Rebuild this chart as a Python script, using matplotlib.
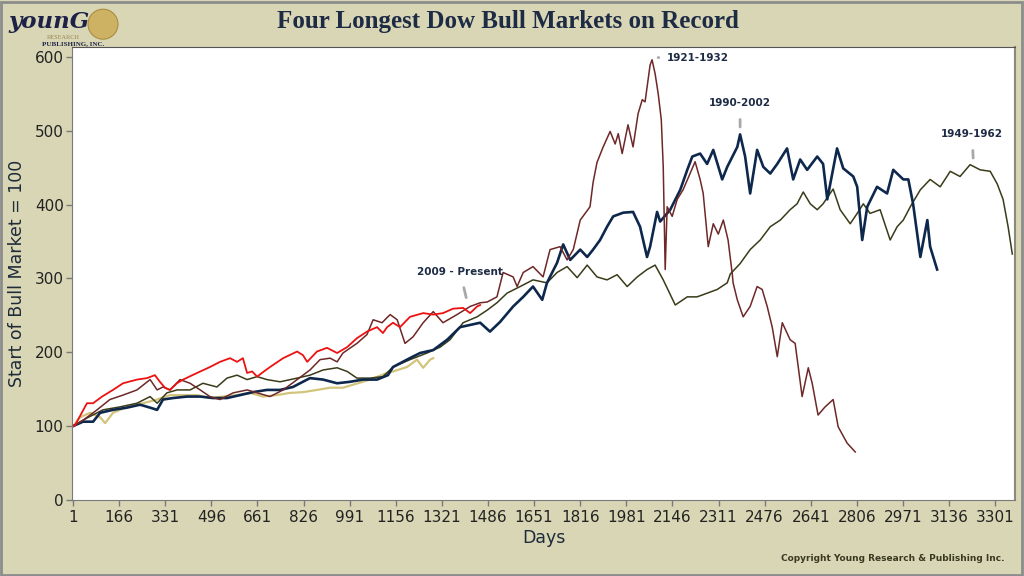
import matplotlib.pyplot as plt
from matplotlib.patches import Rectangle, Ellipse

# values (day number, index with start of bull market = 100)
red_days = [1, 8, 51, 73, 105, 144, 180, 230, 266, 294, 312, 330, 348, 373, 395, 445, 491, 527, 563, 588,
            609, 624, 642, 660, 677, 706, 753, 803, 824, 839, 874, 910, 946, 982, 1017, 1053, 1089, 1110,
            1125, 1146, 1171, 1207, 1254, 1290, 1325, 1361, 1397, 1422, 1447, 1458]
red_vals = [100, 101, 131, 131, 140, 149, 158, 163, 165, 169, 160, 152, 149, 158, 163, 172, 180, 187, 192, 187,
            192, 172, 174, 167, 172, 180, 192, 201, 196, 187, 201, 206, 199, 207, 219, 228, 234, 226,
            234, 240, 234, 248, 253, 251, 253, 259, 260, 253, 262, 264]

khaki_days = [1, 26, 62, 98, 116, 144, 194, 252, 302, 348, 395, 445, 491, 538, 588, 635, 681, 731, 778, 824,
              874, 921, 967, 1003, 1064, 1125, 1146, 1196, 1232, 1254, 1279, 1290]
khaki_vals = [100, 112, 118, 112, 104, 118, 126, 131, 136, 142, 142, 142, 138, 140, 142, 145, 140, 142, 145, 146,
              149, 152, 152, 156, 163, 172, 174, 180, 190, 179, 190, 192]

navy_days = [1, 37, 73, 98, 144, 194, 241, 277, 302, 323, 359, 409, 456, 502, 552, 599, 645, 695, 742, 788,
             849, 896, 946, 992, 1039, 1089, 1128, 1146, 1196, 1243, 1290, 1340, 1386, 1422, 1458, 1493, 1529,
             1576, 1612, 1647, 1680, 1697, 1733, 1755, 1780, 1816, 1841, 1862, 1887, 1912, 1934, 1970, 2005,
             2030, 2055, 2066, 2091, 2102, 2138, 2174, 2199, 2217, 2245, 2270, 2292, 2324, 2342, 2378, 2388,
             2406, 2424, 2449, 2471, 2496, 2521, 2556, 2578, 2603, 2628, 2664, 2685, 2700, 2735, 2757, 2793,
             2807, 2825, 2843, 2878, 2914, 2936, 2972, 2990, 3007, 3033, 3058, 3068, 3093]
navy_vals = [100, 106, 106, 118, 122, 125, 129, 125, 122, 136, 138, 140, 140, 138, 138, 142, 146, 149, 149, 153,
             165, 163, 158, 160, 163, 163, 169, 180, 190, 199, 203, 217, 234, 237, 240, 228, 241,
             262, 275, 289, 271, 294, 321, 346, 325, 339, 329, 339, 352, 370, 384, 389, 390,
             370, 329, 343, 390, 377, 393, 420, 447, 465, 469, 455, 474, 434, 451, 478, 495,
             465, 415, 474, 451, 442, 455, 476, 434, 461, 447, 465, 455, 407, 476, 449, 438,
             424, 352, 397, 424, 415, 447, 434, 434, 401, 329, 379, 343, 312]

olive_days = [1, 51, 108, 169, 230, 277, 302, 337, 373, 420, 466, 516, 552, 588, 624, 660, 695, 742, 803, 849,
              896, 946, 982, 1017, 1064, 1110, 1146, 1207, 1268, 1315, 1350, 1397, 1447, 1483, 1518, 1554,
              1601, 1647, 1697, 1733, 1769, 1805, 1841, 1876, 1912, 1948, 1984, 2020, 2055, 2084, 2113,
              2156, 2199, 2234, 2256, 2306, 2342, 2353, 2388, 2424, 2460, 2496, 2532, 2567, 2592, 2614,
              2639, 2664, 2685, 2710, 2721, 2746, 2782, 2807, 2829, 2853, 2889, 2925, 2950, 2972, 2997,
              3033, 3068, 3104, 3140, 3175, 3211, 3247, 3283, 3308, 3329, 3347, 3362]
olive_vals = [100, 111, 122, 126, 131, 140, 131, 145, 149, 149, 158, 153, 165, 169, 163, 167, 163, 160, 165, 169,
              176, 179, 174, 165, 165, 167, 180, 190, 199, 207, 217, 240, 248, 257, 267, 280,
              289, 298, 294, 308, 316, 301, 318, 302, 298, 305, 289, 302, 312, 318, 298,
              264, 275, 275, 278, 285, 294, 306, 320, 339, 352, 370, 379, 393, 401, 417,
              401, 393, 401, 415, 421, 393, 374, 388, 401, 388, 393, 352, 370, 379, 397,
              420, 434, 424, 445, 438, 454, 447, 445, 428, 407, 370, 333]

maroon_days = [1, 37, 87, 133, 180, 230, 277, 302, 323, 348, 384, 420, 456, 491, 527, 574, 624, 660, 706, 753,
               803, 849, 885, 921, 946, 967, 1017, 1053, 1075, 1107, 1125, 1136, 1161, 1189, 1218, 1254, 1290,
               1325, 1375, 1422, 1458, 1483, 1518, 1540, 1576, 1590, 1612, 1647, 1683, 1708, 1744, 1769, 1791,
               1816, 1851, 1862, 1876, 1898, 1923, 1941, 1952, 1966, 1987, 2005, 2023, 2038, 2048, 2066, 2073,
               2084, 2095, 2106, 2113, 2120, 2127, 2145, 2163, 2184, 2209, 2227, 2245, 2256, 2274, 2292, 2310,
               2328, 2345, 2360, 2363, 2378, 2399, 2424, 2449, 2467, 2485, 2503, 2521, 2539, 2567, 2585, 2610,
               2632, 2646, 2667, 2692, 2721, 2739, 2771, 2800]
maroon_vals = [100, 108, 122, 136, 142, 149, 163, 149, 153, 149, 163, 158, 149, 140, 136, 145, 149, 145, 140, 149,
               163, 176, 190, 192, 187, 199, 212, 224, 244, 240, 247, 251, 244, 212, 221, 240, 255,
               240, 251, 262, 267, 268, 275, 308, 302, 289, 308, 316, 302, 339, 343, 325, 339,
               379, 397, 430, 457, 478, 499, 482, 496, 469, 508, 478, 523, 542, 539, 589, 596,
               577, 550, 515, 451, 312, 397, 384, 407, 420, 442, 458, 434, 415, 343, 374, 360,
               379, 352, 306, 294, 271, 248, 262, 289, 285, 262, 234, 194, 240, 217, 212, 140,
               179, 158, 115, 126, 136, 99, 77, 65]

x_ticks = list(range(1, 3302, 165))
y_ticks = [0, 100, 200, 300, 400, 500, 600]

# (label, point on line, text position, horizontal alignment)
labels = [
    ("2009 - Present", (1408, 274), (1386, 309), "center"),
    ("1921-1932", (2095, 599), (2127, 599), "left"),
    ("1990-2002", (2388, 505), (2388, 537), "center"),
    ("1949-1962", (3222, 463), (3218, 495), "center"),
]

BG = "#D8D6B4"
NAVY_TXT = "#1E2B45"

fig = plt.figure(figsize=(10.24, 5.76), dpi=100, facecolor=BG)
ax = fig.add_axes([0.0703, 0.132, 0.921, 0.786])
ax.set_facecolor("white")

ax.plot(khaki_days, khaki_vals, color="#D2C47A", lw=1.6)
ax.plot(olive_days, olive_vals, color="#3A3B19", lw=1.1)
ax.plot(navy_days, navy_vals, color="#0E284D", lw=1.9)
ax.plot(maroon_days, maroon_vals, color="#6E2828", lw=1.1)
ax.plot(red_days, red_vals, color="#EE1111", lw=1.3)

ax.set_xlim(-2.6, 3372)
ax.set_ylim(0, 613)
ax.set_xticks(x_ticks)
ax.set_yticks(y_ticks)
ax.tick_params(axis="both", labelsize=11, colors="#7A7A7A", labelcolor="#222222", length=4, width=1)
ax.tick_params(axis="x", pad=3)
ax.tick_params(axis="y", pad=2)

for side in ["left", "bottom", "top", "right"]:
    ax.spines[side].set_color("#7A7A7A")
ax.spines["top"].set_color("#555555")
ax.spines["right"].set_color("#8A8A7A")
ax.spines["right"].set_linewidth(1.5)

ax.set_xlabel("Days", fontsize=12.5, color="#1E2B3A", labelpad=3)
ax.set_ylabel("Start of Bull Market = 100", fontsize=12.5, color="#1E2B3A", labelpad=6)

for text, xy, xytext, ha in labels:
    if ha == "left":
        ax.annotate(text, xy=(xy[0], xy[1]), xytext=xytext, ha="left", va="center",
                    fontsize=7.5, fontweight="bold", color=NAVY_TXT)
        ax.annotate("", xy=(xy[0] - 10, xy[1]), xytext=(xy[0] + 12, xy[1]),
                    arrowprops=dict(arrowstyle="-", color="#A8A8A8", lw=2))
    else:
        ax.annotate(text, xy=xy, xytext=xytext, ha="center", va="center",
                    fontsize=7.5, fontweight="bold", color=NAVY_TXT,
                    arrowprops=dict(arrowstyle="-", color="#A8A8A8", lw=2, shrinkA=6, shrinkB=0))

fig.text(0.496, 0.962, "Four Longest Dow Bull Markets on Record", ha="center", va="center",
         fontsize=18, fontweight="bold", family="Liberation Serif", color=NAVY_TXT)
fig.text(0.981, 0.031, "Copyright Young Research & Publishing Inc.", ha="right", va="center",
         fontsize=6.5, fontweight="bold", color="#3A3A22")

# logo: gold globe behind the word mark
fig.patches.append(Ellipse((0.1006, 0.958), 30 / 1024, 30 / 576, transform=fig.transFigure,
                           facecolor="#CDAE5C", edgecolor="#A8863A", lw=0.8, alpha=0.9))
fig.text(0.008, 0.9514, "younG", ha="left", va="baseline", fontsize=16.5, fontweight="bold",
         style="italic", family="DejaVu Serif", color="#1B2147")
fig.text(0.046, 0.9323, "RESEARCH", ha="left", va="baseline", fontsize=4.5, family="Liberation Serif",
         color="#9A8750")
fig.text(0.041, 0.921, "PUBLISHING, INC.", ha="left", va="baseline", fontsize=5, fontweight="bold",
         family="Liberation Serif", color="#1B2147")

fig.patches.append(Rectangle((0.001, 0.002), 0.997, 0.995, transform=fig.transFigure,
                             fill=False, edgecolor="#8C8C8C", lw=2))

fig.savefig("out.png", dpi=100, facecolor=BG)
